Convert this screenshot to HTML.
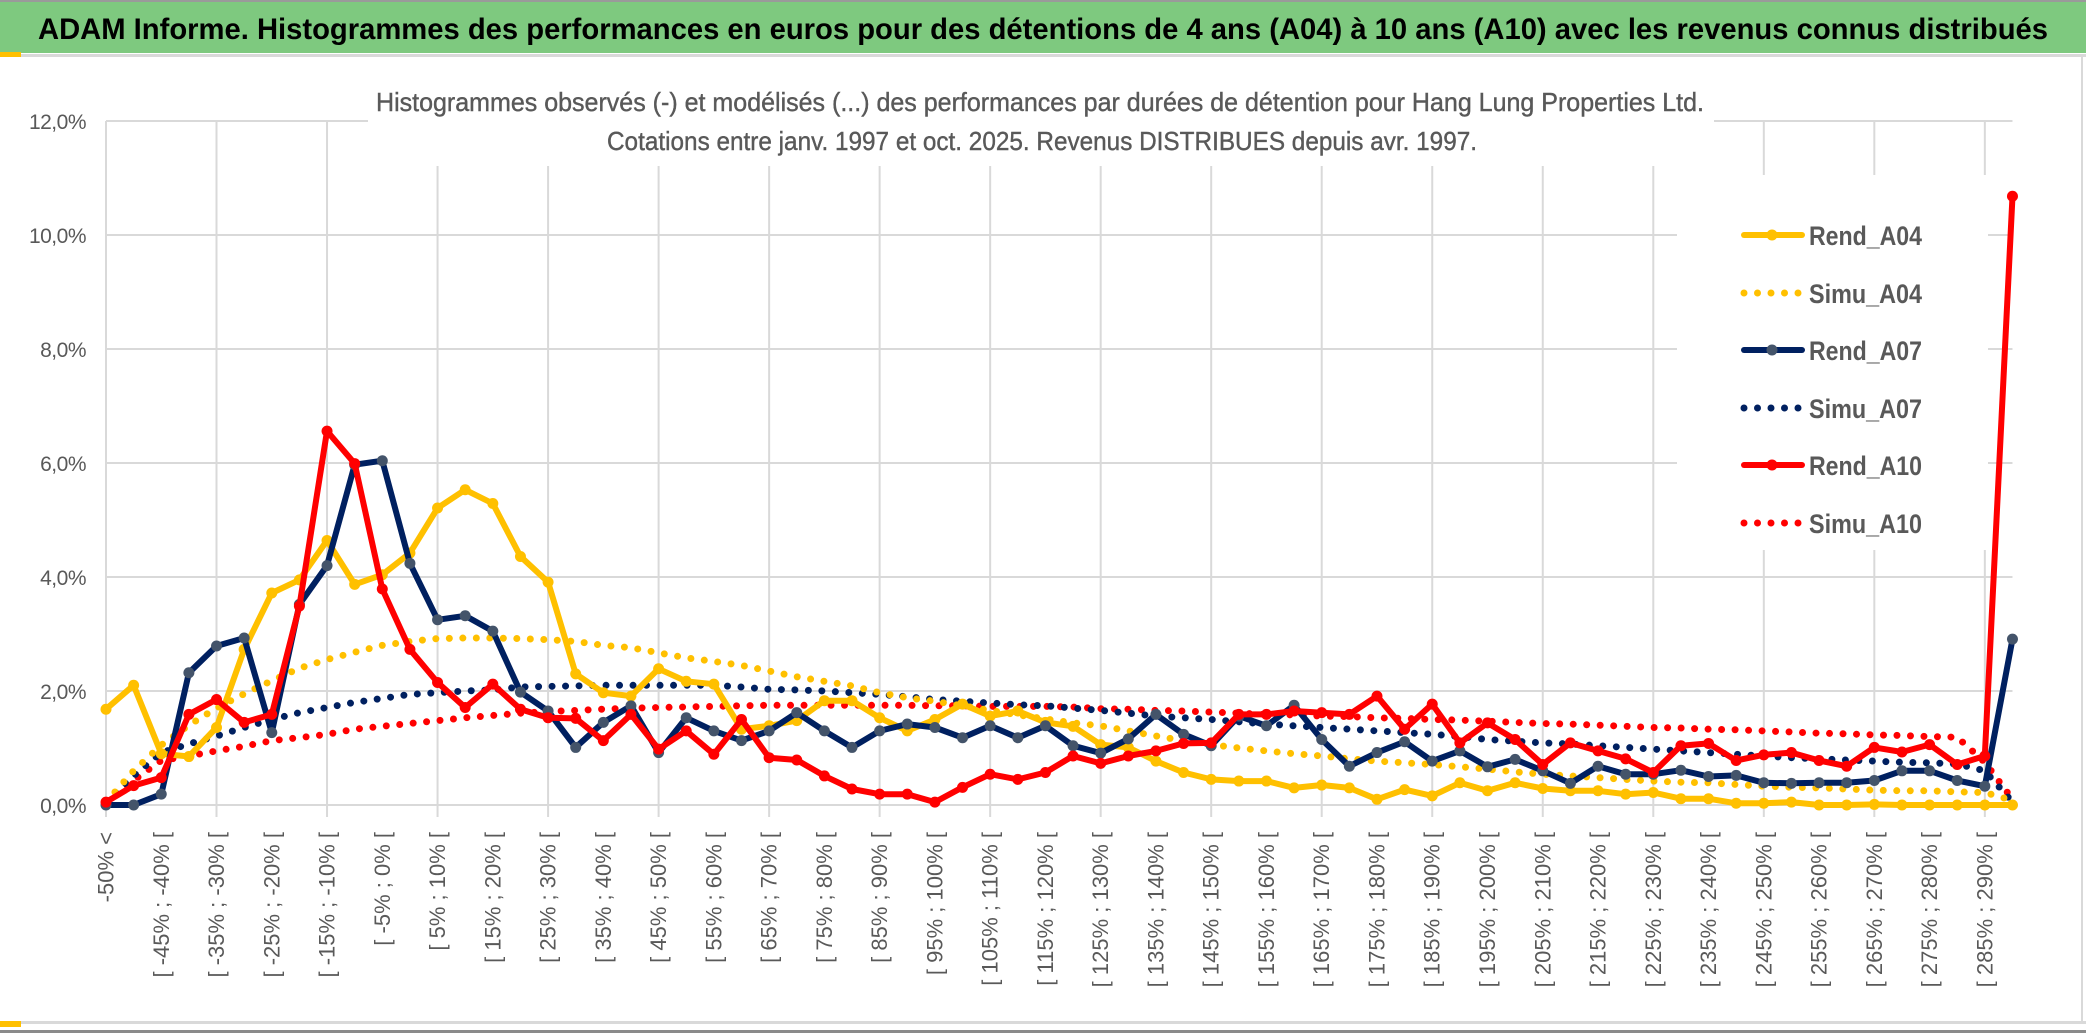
<!DOCTYPE html>
<html><head><meta charset="utf-8">
<style>
html,body{margin:0;padding:0;background:#fff;}
body{width:2086px;height:1033px;overflow:hidden;position:relative;font-family:"Liberation Sans",sans-serif;}
svg{position:absolute;left:0;top:0;}
</style></head>
<body>
<svg id="chart" width="2086" height="1033" viewBox="0 0 2086 1033" xmlns="http://www.w3.org/2000/svg">
  <rect x="0" y="0" width="2086" height="1033" fill="#ffffff"/>
  <rect x="0" y="2" width="2086" height="51" fill="#7ec97f"/>
  <rect x="0" y="0" width="2086" height="2" fill="#9a9a9a"/>
  <rect x="0" y="54" width="2086" height="3" fill="#d9d9d9"/>
  <rect x="0" y="52" width="21" height="5" fill="#ffc000"/>
  <rect x="2081" y="57" width="2" height="966" fill="#d9d9d9"/>
  <rect x="0" y="1021" width="2086" height="3" fill="#d9d9d9"/>
  <rect x="0" y="1021" width="21" height="6" fill="#ffc000"/>
  <rect x="0" y="1030" width="2086" height="3" fill="#8a8a8a"/>
  <text x="1043" y="39" text-anchor="middle" font-family="Liberation Sans, sans-serif" font-weight="bold" font-size="30" fill="#000" textLength="2010" lengthAdjust="spacingAndGlyphs">ADAM Informe. Histogrammes des performances en euros pour des détentions de 4 ans (A04) à 10 ans (A10) avec les revenus connus distribués</text>
  <g id="grid"></g>
  <rect x="368" y="80" width="1346" height="86" fill="#fff"/>
  <rect x="1677" y="175" width="311" height="375" fill="#fff"/>
  <text x="1040" y="111" text-anchor="middle" font-size="26" fill="#595959" stroke="#595959" stroke-width="0.4" textLength="1328" lengthAdjust="spacingAndGlyphs">Histogrammes observés (-) et modélisés (...) des performances par durées de détention pour Hang Lung Properties Ltd.</text>
  <text x="1042" y="150" text-anchor="middle" font-size="26" fill="#595959" stroke="#595959" stroke-width="0.4" textLength="870" lengthAdjust="spacingAndGlyphs">Cotations entre janv. 1997 et oct. 2025. Revenus DISTRIBUES depuis avr. 1997.</text>
  <g id="yaxis"></g>
  <g id="xaxis"></g>
  <g id="series"></g>
  <g id="legend"></g>
</svg>
<script>
const yTicks = [0, 2, 4, 6, 8, 10, 12];
const yTickLabels = ["0,0%", "2,0%", "4,0%", "6,0%", "8,0%", "10,0%", "12,0%"];
const categoryCount = 70;
const rendA04 = [1.68,2.10,0.90,0.85,1.36,2.73,3.72,3.95,4.64,3.87,4.04,4.42,5.21,5.53,5.29,4.36,3.91,2.30,1.97,1.91,2.39,2.17,2.12,1.33,1.39,1.48,1.83,1.83,1.53,1.30,1.50,1.77,1.56,1.65,1.45,1.38,1.06,1.01,0.77,0.57,0.45,0.42,0.42,0.30,0.35,0.30,0.10,0.27,0.16,0.39,0.25,0.39,0.29,0.25,0.25,0.19,0.22,0.11,0.11,0.03,0.03,0.05,0.00,0.00,0.01,0.00,0.00,0.00,0.00,0.00];
const simuA04 = [0.05,0.60,1.05,1.40,1.70,1.95,2.18,2.40,2.55,2.68,2.80,2.87,2.92,2.93,2.93,2.92,2.90,2.87,2.80,2.76,2.67,2.58,2.52,2.45,2.35,2.25,2.17,2.09,1.97,1.88,1.82,1.74,1.66,1.58,1.51,1.44,1.39,1.30,1.21,1.13,1.06,1.00,0.95,0.90,0.86,0.81,0.77,0.74,0.71,0.67,0.63,0.58,0.54,0.51,0.48,0.45,0.42,0.40,0.39,0.36,0.33,0.31,0.30,0.28,0.26,0.25,0.25,0.23,0.22,0.08];
const rendA07 = [0.00,0.00,0.19,2.32,2.79,2.93,1.27,3.52,4.20,5.97,6.04,4.24,3.25,3.32,3.05,1.98,1.65,1.01,1.45,1.74,0.92,1.53,1.30,1.13,1.30,1.62,1.30,1.01,1.30,1.42,1.36,1.18,1.39,1.18,1.39,1.04,0.91,1.16,1.59,1.24,1.04,1.56,1.39,1.75,1.15,0.68,0.92,1.11,0.77,0.95,0.67,0.80,0.60,0.38,0.68,0.54,0.54,0.61,0.50,0.52,0.39,0.38,0.39,0.39,0.43,0.60,0.60,0.43,0.33,2.91];
const simuA07 = [0.05,0.51,0.92,1.07,1.21,1.36,1.50,1.62,1.71,1.80,1.87,1.94,1.97,2.00,2.02,2.07,2.08,2.09,2.10,2.10,2.10,2.10,2.10,2.07,2.03,2.02,2.00,1.97,1.94,1.90,1.85,1.82,1.79,1.76,1.74,1.70,1.66,1.61,1.56,1.53,1.50,1.46,1.42,1.39,1.36,1.33,1.30,1.27,1.24,1.20,1.15,1.12,1.09,1.07,1.04,1.01,0.98,0.95,0.92,0.89,0.86,0.83,0.81,0.79,0.77,0.75,0.74,0.72,0.60,0.05];
const rendA10 = [0.05,0.34,0.48,1.59,1.85,1.45,1.59,3.49,6.56,5.99,3.79,2.73,2.15,1.71,2.12,1.68,1.53,1.52,1.13,1.59,0.98,1.30,0.89,1.50,0.83,0.79,0.51,0.28,0.19,0.19,0.05,0.31,0.54,0.45,0.57,0.86,0.73,0.86,0.95,1.08,1.09,1.59,1.59,1.65,1.62,1.59,1.91,1.33,1.77,1.09,1.44,1.15,0.71,1.09,0.95,0.81,0.57,1.04,1.08,0.78,0.88,0.92,0.78,0.68,1.01,0.93,1.06,0.71,0.86,10.68];
const simuA10 = [0.05,0.43,0.78,0.86,0.95,1.03,1.13,1.18,1.24,1.33,1.38,1.43,1.48,1.53,1.57,1.61,1.64,1.66,1.68,1.70,1.71,1.72,1.73,1.74,1.75,1.75,1.75,1.75,1.75,1.75,1.74,1.74,1.73,1.73,1.73,1.72,1.69,1.68,1.66,1.65,1.63,1.61,1.59,1.58,1.56,1.55,1.53,1.52,1.50,1.49,1.47,1.45,1.43,1.42,1.40,1.38,1.36,1.35,1.33,1.32,1.30,1.28,1.26,1.25,1.23,1.22,1.20,1.19,0.75,0.10];
const seriesNames = ["Rend_A04","Simu_A04","Rend_A07","Simu_A07","Rend_A10","Simu_A10"];

const NS = "http://www.w3.org/2000/svg";
const X0 = 106, DX = 27.63, Y0 = 805, YTOP = 121, YMAX = 12;
function xs(i){ return X0 + DX * i; }
function ys(v){ return Y0 - (v / YMAX) * (Y0 - YTOP); }
function mk(tag, attrs, parent){
  const e = document.createElementNS(NS, tag);
  for (const k in attrs) e.setAttribute(k, attrs[k]);
  parent.appendChild(e);
  return e;
}
function catLabel(k){
  if (k === 0) return "-50% <";
  return "[ " + (-55 + 5 * k) + "% ; " + (-50 + 5 * k) + "% [";
}
const grid = document.getElementById("grid");
const xEnd = xs(categoryCount - 1);
yTicks.forEach(function(t){
  const l = mk("line", {x1: X0, x2: xEnd, y1: ys(t), y2: ys(t), stroke: "#d9d9d9", "stroke-width": 2}, grid);
  
  
});
for (let i = 0; i < categoryCount; i += 4){
  const l = mk("line", {x1: xs(i), x2: xs(i), y1: YTOP, y2: Y0 + 12, stroke: "#d9d9d9", "stroke-width": 2}, grid);
  
  
}
const yaxis = document.getElementById("yaxis");
yTicks.forEach(function(t, j){
  const tx = mk("text", {x: 86, y: ys(t) + 8, "text-anchor": "end", "font-size": 21, fill: "#595959", "letter-spacing": "-0.5"}, yaxis);
  tx.textContent = yTickLabels[j];
  
  
});
const xaxis = document.getElementById("xaxis");
for (let k = 0; k < categoryCount; k += 2){
  const x = xs(k), y = 832;
  const tx = mk("text", {x: x, y: y, transform: "rotate(-90 " + x + " " + y + ")", "text-anchor": "end", "dominant-baseline": "central", "font-size": 22, fill: "#595959"}, xaxis);
  tx.textContent = catLabel(k);
  
  
}
const seriesG = document.getElementById("series");
function pts(arr){ return arr.map(function(v, i){ return xs(i).toFixed(1) + "," + ys(v).toFixed(1); }).join(" "); }
function dotted(arr, color, name){
  const p = mk("polyline", {points: pts(arr), fill: "none", stroke: color, "stroke-width": 7, "stroke-linecap": "round", "stroke-dasharray": "0 13.5"}, seriesG);
  
  
}
function solid(arr, color, mcolor, name){
  const p = mk("polyline", {points: pts(arr), fill: "none", stroke: color, "stroke-width": 6, "stroke-linejoin": "round"}, seriesG);
  
  
  arr.forEach(function(v, i){
    const c = mk("circle", {cx: xs(i), cy: ys(v), r: 5.5, fill: mcolor}, seriesG);
    
    
  });
}
dotted(simuA10, "#ff0000", "simu-a10-line");
dotted(simuA07, "#002060", "simu-a07-line");
dotted(simuA04, "#ffc000", "simu-a04-line");
solid(rendA04, "#ffc000", "#ffc000", "rend-a04-line");
solid(rendA07, "#002060", "#44546a", "rend-a07-line");
solid(rendA10, "#ff0000", "#ff0000", "rend-a10-line");

const legend = document.getElementById("legend");
const legColors = ["#ffc000","#ffc000","#002060","#002060","#ff0000","#ff0000"];
const legMarker = ["#ffc000",null,"#44546a",null,"#ff0000",null];
const legY = [235, 293, 350, 408, 465, 523];
seriesNames.forEach(function(n, j){
  const y = legY[j];
  if (legMarker[j]){
    const l = mk("line", {x1: 1744, x2: 1802, y1: y, y2: y, stroke: legColors[j], "stroke-width": 6, "stroke-linecap": "round"}, legend);
    
    
    const c = mk("circle", {cx: 1772, cy: y, r: 5.5, fill: legMarker[j]}, legend);
    
    
  } else {
    const l = mk("line", {x1: 1744, x2: 1802, y1: y, y2: y, stroke: legColors[j], "stroke-width": 7, "stroke-linecap": "round", "stroke-dasharray": "0 13.5"}, legend);
    
    
  }
  const t = mk("text", {x: 1809, y: y + 10, "font-size": 27, "font-weight": "bold", fill: "#595959", textLength: 113, lengthAdjust: "spacingAndGlyphs"}, legend);
  t.textContent = n;
  
  
});
</script>
</body></html>
